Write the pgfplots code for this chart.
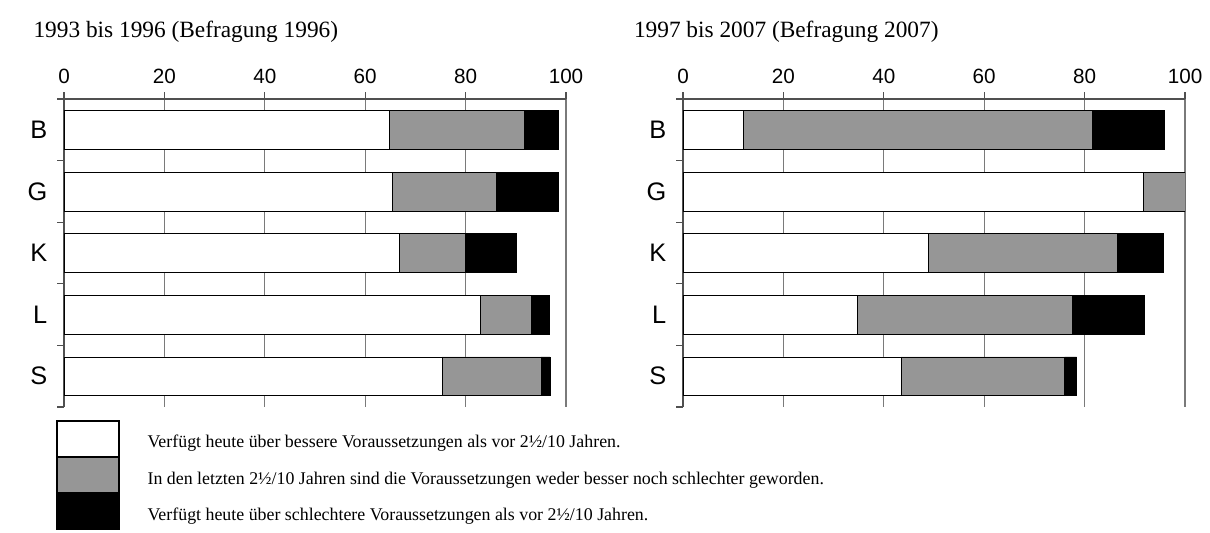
\documentclass[border=0pt]{standalone}
\usepackage{fontspec}
\setmainfont{Liberation Serif}
\setsansfont{Liberation Sans}
\usepackage{pgfplots}
\pgfplotsset{compat=1.18}
\definecolor{barGray}{HTML}{969696}
\definecolor{axGray}{HTML}{505050}
\definecolor{gridGray}{HTML}{7A7A7A}

\pgfplotsset{
  umfrage/.style={
    scale only axis, width=376.5pt, height=231pt,
    anchor=north west,
    xbar stacked, bar width=0.63,
    xmin=0, xmax=100, ymin=-0.5, ymax=4.5, y dir=reverse,
    axis x line*=top, axis y line*=left,
    axis line style={axGray, line width=1.2pt},
    xtick={0,20,...,100},
    xmajorgrids, grid style={gridGray, line width=0.8pt},
    ytick={-0.5,0.5,...,4.5}, yticklabels={},
    extra y ticks={0,1,2,3,4},
    extra y tick labels={B,G,K,L,S},
    extra y tick style={major tick length=0pt,
      yticklabel style={font=\sffamily\fontsize{19}{19}\selectfont, xshift=-9pt}},
    tick align=outside, major tick length=5pt,
    tick style={axGray, line width=1pt},
    /pgf/number format/assume math mode=true,
    xticklabel style={font=\sffamily\fontsize{15.5}{15.5}\selectfont, yshift=3pt},
    title style={font=\fontsize{17.5}{17.5}\selectfont, anchor=base west},
  },
  legbox/.style={legend image code/.code={
    \draw[##1, line width=1pt] (0pt,-10.5pt) rectangle (46.5pt,16pt);}},
}

\begin{document}
\begin{tikzpicture}
\path[use as bounding box] (0,0) rectangle (907.5pt,-399pt);

\begin{axis}[umfrage, at={(48pt,-74.25pt)},
  title={1993 bis 1996 (Befragung 1996)},
  title style={at={(-0.070,1.175)}},
  legend style={at={(-0.016,-0.042)}, anchor=north west, draw=none, fill=none,
    inner sep=0pt, row sep=0pt, column sep=21pt,
    font=\fontsize{13.4}{13.4}\selectfont, nodes={inner sep=0pt}},
  legend cell align=left,
]
\addplot[fill=white, draw=black, legbox] coordinates {
  (64.8,0) (65.4,1) (66.7,2) (82.9,3) (75.3,4)};
\addplot[fill=barGray, draw=black, legbox] coordinates {
  (26.8,0) (20.7,1) (13.3,2) (10.2,3) (19.7,4)};
\addplot[fill=black, draw=black, legbox] coordinates {
  (6.8,0) (12.3,1) (10.0,2) (3.5,3) (1.8,4)};
\legend{Verfügt heute über bessere Voraussetzungen als vor 2½/10 Jahren.,
  In den letzten 2½/10 Jahren sind die Voraussetzungen weder besser noch schlechter geworden.,
  Verfügt heute über schlechtere Voraussetzungen als vor 2½/10 Jahren.}
\end{axis}

\begin{axis}[umfrage, at={(512.25pt,-74.25pt)},
  title={1997 bis 2007 (Befragung 2007)},
  title style={at={(-0.107,1.175)}},
]
\addplot[fill=white, draw=black] coordinates {
  (12.1,0) (91.7,1) (48.9,2) (34.7,3) (43.4,4)};
\addplot[fill=barGray, draw=black] coordinates {
  (69.4,0) (8.3,1) (37.7,2) (42.8,3) (32.6,4)};
\addplot[fill=black, draw=black] coordinates {
  (14.3,0) (0,1) (9.0,2) (14.4,3) (2.4,4)};
\end{axis}
\end{tikzpicture}
\end{document}
